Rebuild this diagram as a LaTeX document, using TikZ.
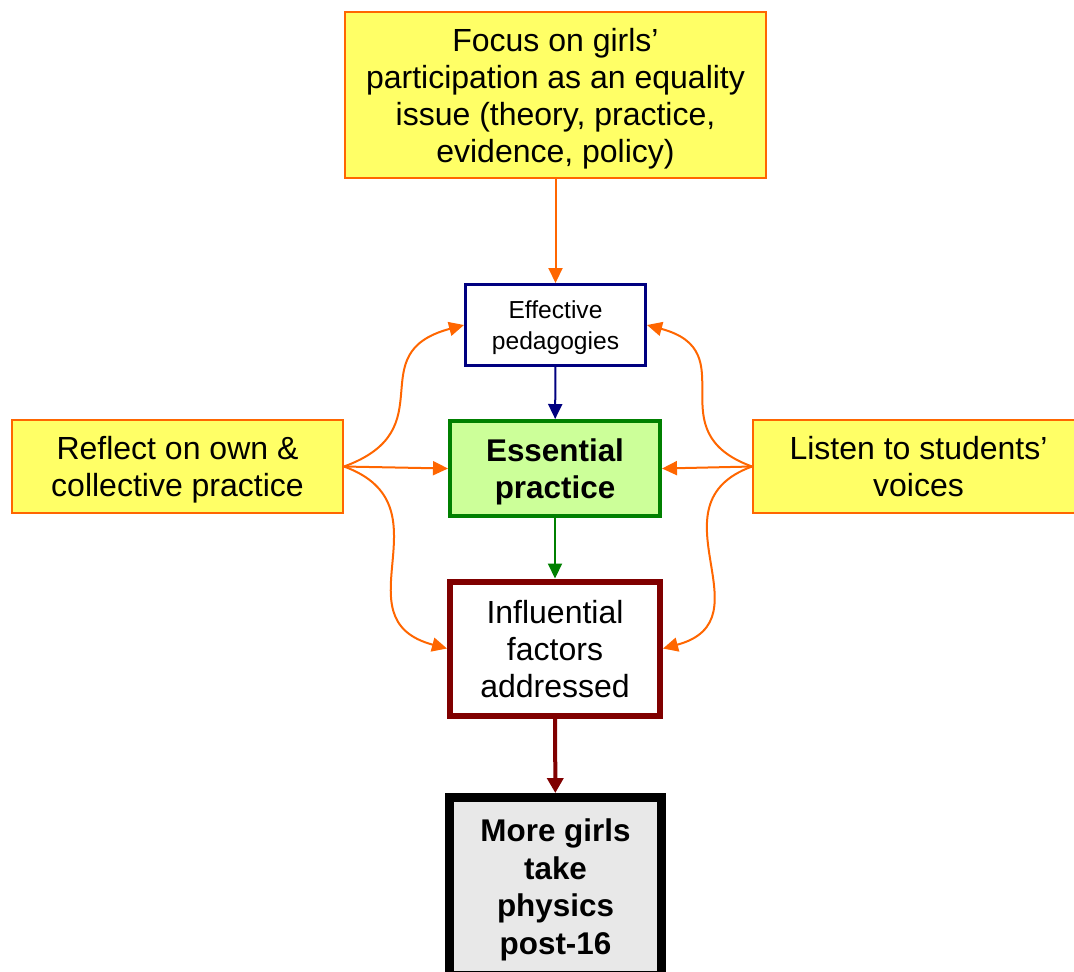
\documentclass[tikz,border=0pt]{standalone}
\usepackage{fontspec}
\setmainfont{Liberation Sans}
\usetikzlibrary{arrows.meta}
\definecolor{Orange}{HTML}{FF6600}
\definecolor{Yellow}{HTML}{FFFF66}
\definecolor{Navy}{HTML}{000080}
\definecolor{Green}{HTML}{008000}
\definecolor{GreenLight}{HTML}{CCFF99}
\definecolor{Maroon}{HTML}{800000}
\definecolor{GreyLight}{HTML}{E8E8E8}
\tikzset{idea/.style={draw=Orange,fill=Yellow,line width=1pt,align=center,inner sep=0pt,text depth=0pt,font=\fontsize{16}{18.5}\selectfont},stage/.style={align=center,inner sep=0pt,text depth=0pt,font=\fontsize{16}{18.5}\selectfont},core/.style={align=center,inner sep=0pt,text depth=0pt,font=\bfseries\fontsize{15.7}{18.7}\selectfont},flow/.style={-{Triangle[length=7.5pt,width=7pt]},line width=1pt,draw=Orange}}
\begin{document}
\begin{tikzpicture}[x=0.5pt,y=-0.5pt]
      \useasboundingbox (0,0) rectangle (1074,971);
      \node[idea,minimum width=210.5pt,minimum height=83pt](focus) at (555.5,95){Focus on girls'\\participation as an equality\\issue (theory, practice,\\evidence, policy)};
      \node[stage,draw=Navy,fill=white,line width=1.5pt,minimum width=90pt,minimum height=40.5pt,font=\fontsize{12.3}{15.5}\selectfont](ped) at (555.5,325){Effective\\pedagogies};
      \node[core,draw=Green,fill=GreenLight,line width=2pt,minimum width=105pt,minimum height=47.5pt](ess) at (555,468.5){Essential\\practice};
      \node[stage,draw=Maroon,fill=white,line width=3pt,minimum width=105pt,minimum height=67pt](infl) at (555,648.5){Influential\\factors\\addressed};
      \node[core,draw=black,fill=GreyLight,line width=4.5pt,minimum width=106pt,minimum height=89pt](more) at (555.5,886.5){More girls\\take\\physics\\post-16};
      \node[idea,minimum width=165.5pt,minimum height=46.5pt](own) at (177.5,466.5){Reflect on own \&\\collective practice};
      \node[idea,minimum width=165.5pt,minimum height=46.5pt](voices) at (918.5,466.5){Listen to students'\\voices};
      \draw[flow](focus)--(ped);
      \draw[flow,draw=Navy](ped)--(ess);
      \draw[flow,draw=Green](ess)--(infl);
      \draw[flow,draw=Maroon,line width=2pt,-{Triangle[length=7.5pt,width=8pt]}](infl)--(more);
      \draw[flow](own.east) to[out=20,in=195,looseness=1.5] (ped.west);
      \draw[flow](own.east)--(ess.west);
      \draw[flow](own.east) to[out=-20,in=165,looseness=1.4] (infl.west);
      \draw[flow](voices.west) to[out=160,in=-15,looseness=1.5] (ped.east);
      \draw[flow](voices.west)--(ess.east);
      \draw[flow](voices.west) to[out=200,in=15,looseness=1.4] (infl.east);
    \end{tikzpicture}
\end{document}
